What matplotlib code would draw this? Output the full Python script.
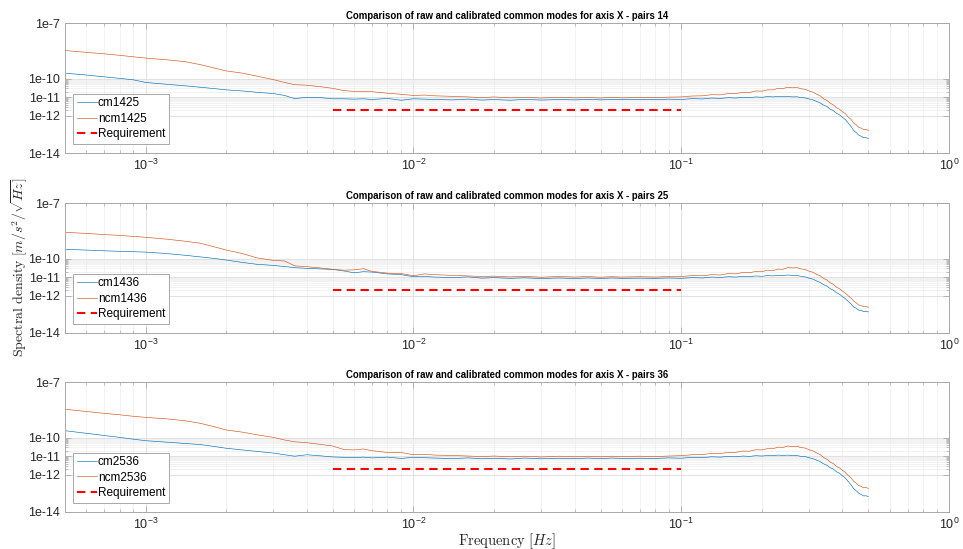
import numpy as np
import matplotlib.pyplot as plt
from matplotlib.ticker import FixedLocator, FixedFormatter, NullFormatter, LogLocator

plt.rcParams['font.family'] = ['Liberation Sans', 'DejaVu Sans']

# frequency grid [Hz]
freq = [5e-4, 6e-4, 7e-4, 8e-4, 9e-4, 1e-3, 1.2e-3, 1.4e-3, 1.6e-3, 1.8e-3,
        2e-3, 2.3e-3, 2.6e-3, 3e-3, 3.3e-3, 3.6e-3, 4e-3, 4.5e-3, 5e-3, 5.5e-3,
        6e-3, 6.5e-3, 7e-3, 8e-3, 9e-3, 1e-2, 1.1e-2, 1.2e-2, 1.4e-2, 1.6e-2,
        1.8e-2, 2e-2, 2.3e-2, 2.6e-2, 3e-2, 3.5e-2, 4e-2, 4.5e-2, 5e-2, 5.5e-2,
        6e-2, 7e-2, 8e-2, 9e-2,
        0.10, 0.11, 0.12, 0.13, 0.14, 0.15, 0.16, 0.17, 0.18, 0.19,
        0.20, 0.21, 0.22, 0.23, 0.24, 0.25, 0.26, 0.27, 0.28, 0.29,
        0.30, 0.31, 0.32, 0.33, 0.34, 0.35, 0.36, 0.37, 0.38, 0.39,
        0.40, 0.41, 0.42, 0.43, 0.44, 0.45, 0.46, 0.47, 0.48, 0.49, 0.50]

# log10 of spectral density
cm14 = [-9.70, -9.80, -9.90, -9.98, -10.06, -10.20, -10.30, -10.38, -10.46, -10.53,
        -10.60, -10.66, -10.73, -10.80, -10.90, -11.07, -11.00, -11.02, -11.08, -11.08,
        -11.10, -11.08, -11.12, -11.06, -11.16, -11.08, -11.10, -11.12, -11.14, -11.10,
        -11.15, -11.12, -11.16, -11.11, -11.15, -11.12, -11.14, -11.11, -11.14, -11.11,
        -11.13, -11.12, -11.13, -11.10,
        -11.12, -11.07, -11.09, -11.04, -11.06, -11.02, -11.04, -11.00, -11.02, -10.98,
        -11.00, -10.96, -10.98, -10.95, -10.97, -10.95, -10.98, -10.97, -11.02, -11.03,
        -11.09, -11.14, -11.22, -11.30, -11.42, -11.50, -11.64, -11.72, -11.86, -11.94,
        -12.08, -12.20, -12.38, -12.56, -12.78, -12.90, -13.04, -13.10, -13.18, -13.17, -13.23]
ncm14 = [-8.48, -8.58, -8.66, -8.74, -8.82, -8.89, -8.98, -9.08, -9.24, -9.42,
         -9.58, -9.70, -9.86, -10.05, -10.20, -10.32, -10.35, -10.43, -10.52, -10.64,
         -10.68, -10.68, -10.70, -10.78, -10.84, -10.90, -10.88, -10.92, -10.95, -10.98,
         -11.02, -10.98, -11.03, -11.00, -11.04, -11.00, -11.03, -11.01, -11.04, -11.00,
         -11.03, -11.01, -11.02, -10.99,
         -10.98, -10.93, -10.92, -10.86, -10.87, -10.80, -10.80, -10.73, -10.74, -10.66,
         -10.67, -10.60, -10.60, -10.52, -10.53, -10.46, -10.49, -10.47, -10.54, -10.57,
         -10.66, -10.72, -10.83, -10.92, -11.08, -11.17, -11.32, -11.41, -11.57, -11.64,
         -11.78, -11.88, -12.06, -12.18, -12.38, -12.48, -12.62, -12.66, -12.74, -12.72, -12.79]

cm25 = [-9.49, -9.53, -9.57, -9.60, -9.62, -9.64, -9.72, -9.81, -9.90, -9.98,
        -10.07, -10.20, -10.30, -10.36, -10.42, -10.48, -10.52, -10.55, -10.58, -10.66,
        -10.76, -10.70, -10.72, -10.82, -10.86, -10.97, -10.96, -10.99, -11.02, -10.98,
        -11.05, -11.02, -11.06, -11.03, -11.07, -11.04, -11.07, -11.04, -11.07, -11.04,
        -11.06, -11.05, -11.06, -11.04,
        -11.06, -11.02, -11.04, -10.99, -11.01, -10.97, -10.99, -10.95, -10.97, -10.93,
        -10.95, -10.91, -10.93, -10.89, -10.91, -10.88, -10.90, -10.90, -10.95, -10.98,
        -11.05, -11.10, -11.20, -11.28, -11.40, -11.48, -11.62, -11.70, -11.84, -11.92,
        -12.05, -12.16, -12.30, -12.44, -12.60, -12.68, -12.78, -12.80, -12.86, -12.84, -12.88]
ncm25 = [-8.57, -8.63, -8.69, -8.74, -8.79, -8.84, -8.94, -9.05, -9.16, -9.35,
         -9.53, -9.72, -9.95, -10.09, -10.12, -10.38, -10.43, -10.50, -10.57, -10.62,
         -10.60, -10.54, -10.68, -10.78, -10.80, -10.92, -10.82, -10.86, -10.90, -10.93,
         -10.96, -10.94, -10.98, -10.95, -11.00, -10.96, -10.99, -10.96, -11.00, -10.97,
         -10.99, -10.97, -10.99, -10.96,
         -10.96, -10.91, -10.92, -10.86, -10.88, -10.80, -10.82, -10.74, -10.76, -10.68,
         -10.70, -10.62, -10.64, -10.56, -10.57, -10.48, -10.50, -10.48, -10.55, -10.58,
         -10.67, -10.73, -10.84, -10.92, -11.06, -11.15, -11.30, -11.38, -11.54, -11.62,
         -11.75, -11.86, -12.00, -12.12, -12.28, -12.38, -12.50, -12.54, -12.60, -12.58, -12.63]

cm36 = [-9.62, -9.76, -9.88, -9.98, -10.08, -10.16, -10.24, -10.31, -10.37, -10.47,
        -10.57, -10.66, -10.74, -10.83, -10.92, -11.00, -10.92, -10.98, -11.04, -11.06,
        -11.08, -11.05, -11.09, -11.05, -11.12, -11.06, -11.08, -11.10, -11.13, -11.09,
        -11.14, -11.11, -11.15, -11.10, -11.14, -11.11, -11.13, -11.10, -11.13, -11.10,
        -11.12, -11.11, -11.12, -11.09,
        -11.11, -11.06, -11.08, -11.03, -11.05, -11.01, -11.03, -10.99, -11.01, -10.97,
        -10.99, -10.96, -10.97, -10.94, -10.96, -10.94, -10.97, -10.96, -11.01, -11.02,
        -11.08, -11.13, -11.21, -11.29, -11.41, -11.49, -11.62, -11.70, -11.84, -11.92,
        -12.06, -12.18, -12.36, -12.54, -12.75, -12.87, -13.00, -13.07, -13.15, -13.14, -13.19]
ncm36 = [-8.46, -8.58, -8.68, -8.76, -8.84, -8.90, -8.98, -9.08, -9.22, -9.40,
         -9.58, -9.70, -9.84, -9.98, -10.12, -10.22, -10.27, -10.36, -10.45, -10.64,
         -10.66, -10.61, -10.70, -10.80, -10.80, -10.92, -10.90, -10.94, -10.96, -10.99,
         -11.02, -10.99, -11.03, -11.00, -11.04, -11.00, -11.03, -11.00, -11.03, -11.00,
         -11.02, -11.00, -11.02, -10.99,
         -10.97, -10.92, -10.91, -10.85, -10.86, -10.79, -10.79, -10.72, -10.73, -10.65,
         -10.66, -10.59, -10.59, -10.51, -10.52, -10.45, -10.48, -10.46, -10.53, -10.56,
         -10.65, -10.71, -10.82, -10.91, -11.07, -11.16, -11.31, -11.40, -11.56, -11.63,
         -11.77, -11.87, -12.04, -12.16, -12.35, -12.45, -12.59, -12.63, -12.71, -12.69, -12.75]

req_freq = [5e-3, 0.1]
req_level = [2e-12, 2e-12]

pairs = ['14', '25', '36']
tags = ['1425', '1436', '2536']
cm_all = [cm14, cm25, cm36]
ncm_all = [ncm14, ncm25, ncm36]

yticks = [1e-14, 1e-12, 1e-11, 1e-10, 1e-7]
ytick_labels = ['1e-14', '1e-12', '1e-11', '1e-10', '1e-7']
yminor = [k * 1e-12 for k in range(2, 10)] + [k * 1e-11 for k in range(2, 10)]

positions = [[0.0675, 0.7213, 0.918, 0.2368],
             [0.0675, 0.3940, 0.918, 0.2357],
             [0.0675, 0.0680, 0.918, 0.2357]]

fig = plt.figure(figsize=(9.63, 5.49), dpi=100)

edge = '#a8a8a8'
for i in range(3):
    ax = fig.add_axes(positions[i])
    ax.loglog(freq, 10 ** np.array(cm_all[i]), color='#0072BD', lw=0.45, label='cm' + tags[i])
    ax.loglog(freq, 10 ** np.array(ncm_all[i]), color='#D95319', lw=0.45, label='ncm' + tags[i])
    ax.loglog(req_freq, req_level, color='#ff0000', ls='--', lw=1.5, dashes=(4, 2.6),
              label='Requirement')
    ax.set_xlim(5e-4, 1)
    ax.set_ylim(1e-14, 1e-7)

    ax.xaxis.set_major_locator(LogLocator(base=10, numticks=10))
    ax.xaxis.set_minor_locator(LogLocator(base=10, subs=np.arange(2, 10), numticks=20))
    ax.yaxis.set_major_locator(FixedLocator(yticks))
    ax.yaxis.set_major_formatter(FixedFormatter(ytick_labels))
    ax.yaxis.set_minor_locator(FixedLocator(yminor))
    ax.yaxis.set_minor_formatter(NullFormatter())

    ax.grid(True, which='major', color='#dcdcdc', lw=0.6)
    ax.grid(True, which='minor', color='#ededed', lw=0.5)
    ax.set_axisbelow(True)

    ax.tick_params(which='both', direction='in', top=True, right=True,
                   colors=edge, labelcolor='#262626', labelsize=9)
    ax.tick_params(which='major', length=4, width=0.6)
    ax.tick_params(which='minor', length=2.5, width=0.5)
    for s in ax.spines.values():
        s.set_color(edge)
        s.set_linewidth(0.7)

    ax.set_title('Comparison of raw and calibrated common modes for axis X - pairs ' + pairs[i],
                 fontsize=6.9, fontweight='bold', pad=3)

    leg = ax.legend(loc='lower left', bbox_to_anchor=(8 / 884, 9 / 130), borderaxespad=0,
                    fontsize=8.5, fancybox=False, edgecolor=edge, framealpha=1,
                    handlelength=1.7, handletextpad=0.1, labelspacing=0.3,
                    borderpad=0.3)
    leg.get_frame().set_linewidth(0.7)

fig.text(0.5265, 0.0146, r'$\mathrm{Frequency}\ [Hz]$', ha='center', va='center',
         fontsize=10.5, color='#262626', math_fontfamily='cm')
fig.text(0.0205, 0.514, r'$\mathrm{Spectral\ density}\ [m/s^2/\sqrt{Hz}]$', ha='center',
         va='center', rotation=90, fontsize=10, color='#262626', math_fontfamily='cm')

fig.savefig('out.png', dpi=100)
